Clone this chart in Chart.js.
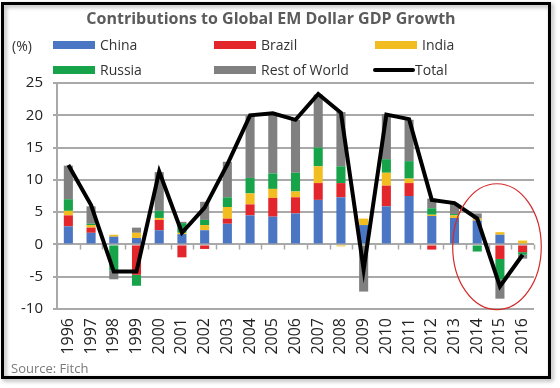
<!DOCTYPE html>
<html><head><meta charset="utf-8">
<script src="https://cdn.jsdelivr.net/npm/chart.js@4.4.1/dist/chart.umd.min.js"></script>
<style>html,body{margin:0;padding:0;background:#fff;overflow:hidden}</style>
</head><body><canvas id="c" width="560" height="388"></canvas>
<script>
const years = ['1996','1997','1998','1999','2000','2001','2002','2003','2004','2005','2006','2007','2008','2009','2010','2011','2012','2013','2014','2015','2016'];
const china  = [2.8, 1.8, 1.2, 1.0, 2.2, 1.6, 2.2, 3.2, 4.5, 4.3, 4.8, 6.9, 7.3, 3.0, 5.9, 7.5, 4.4, 4.1, 3.7, 1.5, 0.0];
const brazil = [1.7, 0.8, 0.0,-4.7, 1.6,-2.0,-0.7, 0.8, 1.7, 2.9, 2.5, 2.6, 2.2, 0.0, 3.2, 2.0,-0.8, 0.0, 0.0,-2.25,-1.2];
const india  = [0.7, 0.4, 0.3, 0.8, 0.3, 0.2, 0.8, 1.8, 1.7, 1.4, 0.9, 2.6,-0.3, 1.0, 2.0, 0.7, 0.2, 0.4, 0.3, 0.4, 0.6];
const russia = [1.8, 0.2,-4.0,-1.7, 1.1, 1.5, 0.8, 1.5, 2.4, 2.4, 2.9, 2.9, 2.6, 0.0, 2.1, 2.7, 1.0, 0.2,-1.1,-3.2,-0.4];
const rest   = [5.2, 2.7,-1.4, 0.8, 6.0, 0.2, 2.8, 5.5, 9.7, 9.3, 8.2, 8.2, 8.4,-7.3, 7.0, 6.4, 1.5, 1.6, 0.8,-2.95,-0.6];
const total  = [12.3, 6.1,-4.2,-4.2,11.3, 1.8, 5.7,12.4,20.0,20.3,19.3,23.3,20.4,-3.9,20.1,19.4, 6.9, 6.4, 4.0,-6.5,-1.6];
const yTicks = [-10,-5,0,5,10,15,20,25];

const seriesNames = ['China','Brazil','India','Russia','Rest of World','Total'];
const seriesColors = ['#4a76c3','#e2262c','#f2bd21','#17a34a','#808080','#000000'];

const FONT = '"Open Sans", "Noto Sans", sans-serif';
const GRID = '#a9a9a9';

const barDefaults = {type:'bar', stack:'s', order:1, barPercentage:0.4, categoryPercentage:1, borderWidth:0};
const barSeries = [china, brazil, india, russia, rest];
const datasets = [{
  type:'line', label:seriesNames[5], data:total, borderColor:seriesColors[5], backgroundColor:seriesColors[5],
  borderWidth:4, pointRadius:0, tension:0, order:0, borderJoinStyle:'miter'
}];
barSeries.forEach((d,i)=>datasets.push(Object.assign({}, barDefaults, {label:seriesNames[i], data:d, backgroundColor:seriesColors[i]})));

const highlight = {center:18.87, value:-0.35, halfSpan:1.95, halfRange:9.75};

const decor = {
  id:'decor',
  beforeDraw(chart){
    const ctx = chart.ctx;
    ctx.save();
    ctx.fillStyle = '#fff';
    ctx.fillRect(0,0,chart.width,chart.height);
    ctx.restore();
  },
  beforeDatasetsDraw(chart){
    // small tick marks along the zero line, between categories
    const ctx = chart.ctx, xs = chart.scales.x, ys = chart.scales.y;
    const y0 = ys.getPixelForValue(0);
    ctx.save();
    ctx.strokeStyle = GRID; ctx.lineWidth = 1.5;
    ctx.beginPath();
    for (let i = 0; i <= years.length; i++) {
      const px = Math.round(xs.getPixelForValue(i - 0.5)) + 0.5;
      ctx.moveTo(px, y0); ctx.lineTo(px, y0 + 5);
    }
    ctx.stroke();
    ctx.restore();
  },
  afterDraw(chart){
    const ctx = chart.ctx;
    const xs = chart.scales.x, ys = chart.scales.y;
    ctx.save();
    // highlight ellipse
    const cx = xs.getPixelForValue(highlight.center);
    const rx = xs.getPixelForValue(highlight.center + highlight.halfSpan) - cx;
    const cy = ys.getPixelForValue(highlight.value);
    const ry = ys.getPixelForValue(highlight.value - highlight.halfRange) - cy;
    ctx.strokeStyle = '#d42a2a';
    ctx.lineWidth = 1.2;
    ctx.beginPath();
    ctx.ellipse(cx, cy, Math.abs(rx), Math.abs(ry), 0, 0, Math.PI*2);
    ctx.stroke();

    // title
    ctx.fillStyle = '#5b5b5b';
    ctx.font = 'bold 16px ' + FONT;
    ctx.textAlign = 'center';
    ctx.textBaseline = 'middle';
    ctx.fillText('Contributions to Global EM Dollar GDP Growth', 271, 19);

    // legend
    ctx.font = '14px ' + FONT;
    ctx.textAlign = 'left';
    ctx.fillStyle = '#333';
    ctx.fillText('(%)', 12, 47);
    const cols = [53, 214, 375], rows = [45, 70];
    seriesNames.forEach((n,i)=>{
      const x = cols[i%3], y = rows[Math.floor(i/3)];
      if (i === 5) {
        ctx.strokeStyle = '#000'; ctx.lineWidth = 4; ctx.lineCap = 'round';
        ctx.beginPath(); ctx.moveTo(x, y); ctx.lineTo(x+38, y); ctx.stroke();
      } else {
        ctx.fillStyle = seriesColors[i];
        ctx.fillRect(x, y-4, 42, 8);
      }
      ctx.fillStyle = '#333';
      ctx.fillText(n, x + (i===5 ? 40 : 47), y+1);
    });

    // source
    ctx.fillStyle = '#7a7a7a';
    ctx.font = '13px ' + FONT;
    ctx.fillText('Source: Fitch', 11, 369);

    // frame
    ctx.shadowColor = 'rgba(0,0,0,0.35)';
    ctx.shadowBlur = 4; ctx.shadowOffsetX = 2; ctx.shadowOffsetY = 2;
    ctx.strokeStyle = '#000'; ctx.lineWidth = 3; ctx.lineCap = 'butt';
    ctx.strokeRect(2.5, 3.5, 547, 374);
    ctx.restore();
  }
};

new Chart(document.getElementById('c'), {
  data:{labels:years, datasets},
  options:{
    responsive:false, animation:false, devicePixelRatio:1,
    layout:{padding:{top:83, right:26, left:0, bottom:0}},
    plugins:{legend:{display:false}, title:{display:false}, tooltip:{enabled:false}},
    scales:{
      x:{
        type:'category', stacked:true, offset:true,
        grid:{display:false, drawTicks:false},
        border:{display:false},
        ticks:{color:'#222', font:{family:FONT, size:16}, maxRotation:90, minRotation:90, padding:9, autoSkip:false},
        afterFit(s){ s.height = 79; }
      },
      y:{
        stacked:true, min:-10, max:25,
        afterBuildTicks(s){ s.ticks = yTicks.map(v=>({value:v})); },
        grid:{color:GRID, lineWidth:2, tickLength:4, drawTicks:true},
        border:{display:true, color:GRID, width:2},
        ticks:{color:'#222', font:{family:FONT, size:15}, padding:10},
        afterFit(s){ s.width = 57; }
      }
    }
  },
  plugins:[decor]
});
</script></body></html>
